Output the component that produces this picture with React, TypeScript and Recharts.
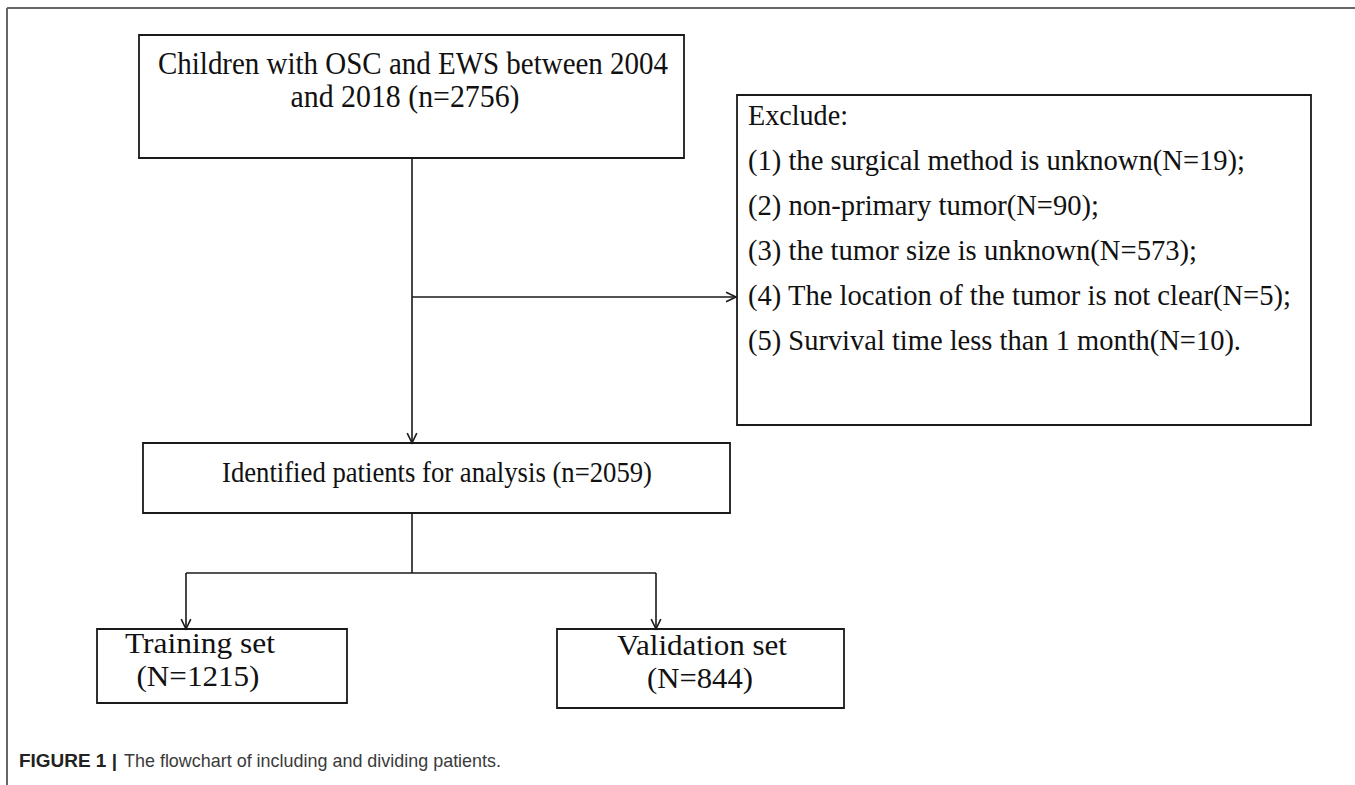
import {
  ScatterChart,
  Scatter,
  XAxis,
  YAxis,
  ReferenceArea,
  ReferenceLine,
} from "recharts";

// counts shown in the flowchart
const totalPatients = 2756;
const excludeReasons = [
  "(1) the surgical method is unknown",
  "(2) non-primary tumor",
  "(3) the tumor size is unknown",
  "(4) The location of the tumor is not clear",
  "(5) Survival time less than 1 month",
];
const excludeCounts = [19, 90, 573, 5, 10];
const analysedPatients = 2059;
const trainingCount = 1215;
const validationCount = 844;

const W = 1355;
const H = 785;
const SERIF = "'Liberation Serif', 'Times New Roman', serif";
const SANS = "'Liberation Sans', Arial, sans-serif";
const INK = "#1a1a1a";

// box outlines in picture units
const boxes = [
  { id: "start", x1: 139, x2: 684, y1: 35, y2: 158 },
  { id: "exclude", x1: 737, x2: 1311, y1: 95, y2: 425 },
  { id: "analysis", x1: 143, x2: 730, y1: 443, y2: 513 },
  { id: "training", x1: 97, x2: 347, y1: 629, y2: 703 },
  { id: "validation", x1: 557, x2: 844, y1: 629, y2: 708 },
];

// connectors between boxes
const links = [
  { from: { x: 412, y: 158 }, to: { x: 412, y: 443 }, arrow: true },
  { from: { x: 412, y: 297 }, to: { x: 736, y: 297 }, arrow: true },
  { from: { x: 412, y: 513 }, to: { x: 412, y: 573 }, arrow: false },
  { from: { x: 186, y: 573 }, to: { x: 656, y: 573 }, arrow: false },
  { from: { x: 186, y: 573 }, to: { x: 186, y: 629 }, arrow: true },
  { from: { x: 656, y: 573 }, to: { x: 656, y: 629 }, arrow: true },
];

const frame = [
  { from: { x: 7, y: 8 }, to: { x: W, y: 8 } },
  { from: { x: 7, y: 8 }, to: { x: 7, y: H } },
];

const excludeLines = [
  "Exclude:",
  ...excludeReasons.map(
    (r, i) => `${r}(N=${excludeCounts[i]})${i === excludeReasons.length - 1 ? "." : ";"}`
  ),
];
const excludeWidths = [100, 497, 351, 449, 543, 493];

const texts = [
  { x: 413, y: 74, text: `Children with  OSC and EWS between 2004`, size: 31, width: 510, anchor: "middle" },
  { x: 405, y: 107, text: `and 2018 (n=${totalPatients})`, size: 31, width: 229, anchor: "middle" },
  ...excludeLines.map((t, i) => ({
    x: 748,
    y: 125 + i * 45,
    text: t,
    size: 30,
    width: excludeWidths[i],
    anchor: "start",
  })),
  { x: 437, y: 482, text: `Identified patients for analysis (n=${analysedPatients})`, size: 30, width: 430, anchor: "middle" },
  { x: 200, y: 653, text: "Training set", size: 30, width: 150, anchor: "middle" },
  { x: 198, y: 686, text: `(N=${trainingCount})`, size: 30, width: 123, anchor: "middle" },
  { x: 702, y: 655, text: "Validation set", size: 30, width: 170, anchor: "middle" },
  { x: 700, y: 688, text: `(N=${validationCount})`, size: 30, width: 106, anchor: "middle" },
  { x: 19, y: 767, text: "FIGURE 1 |", size: 19, width: 98, anchor: "start", bold: true, sans: true },
  { x: 124, y: 767, text: "The flowchart of including and dividing patients.", size: 19, width: 377, anchor: "start", sans: true },
];

const TextMark = (props: any) => {
  const { cx, cy, payload } = props;
  return (
    <text
      x={cx}
      y={cy}
      fontSize={payload.size}
      fontFamily={payload.sans ? SANS : SERIF}
      fontWeight={payload.bold ? 700 : 400}
      textAnchor={payload.anchor}
      textLength={payload.width}
      lengthAdjust="spacingAndGlyphs"
      fill={payload.sans ? (payload.bold ? "#222" : "#3a3a3a") : "#111"}
    >
      {payload.text}
    </text>
  );
};

const makeArrow = (withHead: boolean) => (p: any) => {
  const { x1, y1, x2, y2 } = p;
  const ang = Math.atan2(y2 - y1, x2 - x1);
  const len = 11;
  const spread = 0.45;
  const ax = x2 - len * Math.cos(ang - spread);
  const ay = y2 - len * Math.sin(ang - spread);
  const bx = x2 - len * Math.cos(ang + spread);
  const by = y2 - len * Math.sin(ang + spread);
  return (
    <g stroke={INK} strokeWidth={1.6} fill="none">
      <line x1={x1} y1={y1} x2={x2} y2={y2} />
      {withHead && <polyline points={`${ax},${ay} ${x2},${y2} ${bx},${by}`} />}
    </g>
  );
};

export default function App() {
  return (
    <div style={{ width: W, height: H, background: "#fff" }}>
      <style>{"body{margin:0}"}</style>
      <ScatterChart width={W} height={H} margin={{ top: 0, right: 0, bottom: 0, left: 0 }}>
        <XAxis type="number" dataKey="x" domain={[0, W]} hide allowDataOverflow />
        <YAxis type="number" dataKey="y" domain={[0, H]} reversed hide allowDataOverflow />
        {frame.map((f, i) => (
          <ReferenceLine
            key={`f${i}`}
            segment={[f.from, f.to]}
            stroke="#666"
            strokeWidth={2}
            ifOverflow="visible"
          />
        ))}
        {boxes.map((b) => (
          <ReferenceArea
            key={b.id}
            x1={b.x1}
            x2={b.x2}
            y1={b.y1}
            y2={b.y2}
            fill="none"
            fillOpacity={0}
            stroke={INK}
            strokeWidth={1.8}
            ifOverflow="visible"
          />
        ))}
        {links.map((l, i) => (
          <ReferenceLine
            key={`l${i}`}
            segment={[l.from, l.to]}
            ifOverflow="visible"
            shape={makeArrow(l.arrow)}
          />
        ))}
        <Scatter data={texts} shape={TextMark} isAnimationActive={false} />
      </ScatterChart>
    </div>
  );
}
